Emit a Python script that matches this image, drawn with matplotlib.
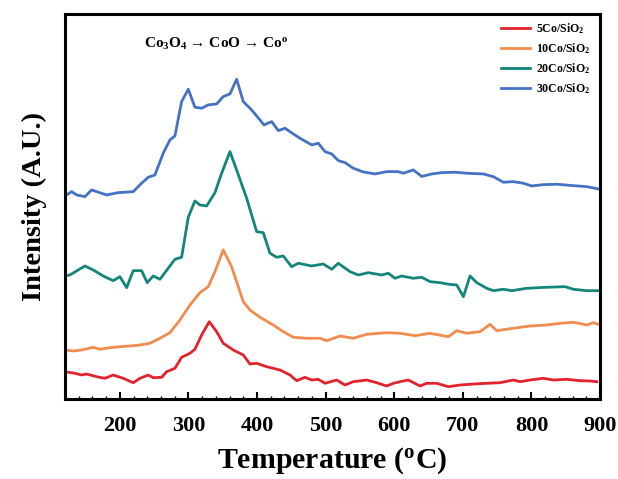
"""TPR profiles of the xCo/SiO2 catalysts, stacked with an offset."""
import matplotlib

matplotlib.use("Agg")
import matplotlib.pyplot as plt
from matplotlib.ticker import MultipleLocator

plt.rcParams["font.family"] = ["Liberation Serif", "DejaVu Serif"]
plt.rcParams["font.weight"] = "bold"
plt.rcParams["mathtext.fontset"] = "custom"
plt.rcParams["mathtext.rm"] = "Liberation Serif:bold"
plt.rcParams["mathtext.bf"] = "Liberation Serif:bold"
plt.rcParams["mathtext.it"] = "Liberation Serif:bold"

# temperature (degC) and intensity (a.u., curves already offset)
t_30 = [122.5, 129.8, 137.1, 149.2, 158.9, 180.8, 197.7, 219.6, 231.8, 241.5,
        251.2, 263.3, 273.1, 280.4, 290.1, 299.8, 309.5, 319.3, 328.9, 341.2,
        350.8, 360.6, 370.3, 380.0, 392.2, 404.3, 410.1, 421.4, 431.0, 440.8,
        452.9, 462.6, 479.7, 489.3, 499.1, 508.9, 518.5, 528.2, 540.3, 554.9,
        572.0, 589.0, 605.9, 613.2, 627.8, 640.1, 654.7, 669.2, 688.6, 705.7,
        729.9, 744.5, 759.0, 773.6, 788.2, 800.4, 817.4, 836.9, 861.1, 880.6,
        897.5]
i_30 = [204, 207.3, 204, 202.3, 209, 204, 206.3, 207.3, 215.7, 221.7,
        224, 245.7, 259, 263, 297.3, 309.7, 291.7, 290.7, 294, 295,
        302.3, 305, 319.7, 297.3, 289, 279, 274, 277.3, 268.3, 270.7,
        265, 260.7, 254, 255.7, 247.3, 245, 238.3, 236.3, 230.7, 227,
        225, 227.3, 227.3, 225.7, 229, 222.5, 225, 226.3, 226.7, 225.7,
        225, 222.3, 216.7, 217.3, 215.7, 213, 214.3, 214.7, 213.3, 212.3,
        210]

t_20 = [120, 127.3, 139.4, 149.2, 161.3, 175.8, 190.4, 200.2, 210, 219.6,
        231.8, 240.0, 248.7, 258.5, 273.1, 280.4, 290.1, 299.8, 309.5, 316.8,
        326.6, 338.7, 348.5, 360.6, 370.3, 384.9, 399.5, 409.1, 418.9, 428.7,
        438.3, 450.5, 460.2, 479.7, 496.6, 508.9, 518.5, 535.5, 547.6, 562.2,
        581.7, 591.4, 601.1, 610.9, 627.8, 640.1, 652.2, 666.8, 681.3, 691.1,
        700.7, 710.5, 720.3, 734.8, 744.5, 759.0, 771.3, 793.1, 822.3, 849.0,
        861.1, 880.6, 897.5]
i_20 = [123, 124, 129, 133, 129, 123, 118.3, 122.3, 111.3, 128.3,
        128.3, 116.3, 123, 119.7, 133, 139.7, 141.7, 181.7, 198, 194,
        193, 206.3, 225.7, 247.3, 229, 200.7, 167.3, 166.3, 145.7, 141.7,
        143, 132.3, 135.7, 133, 135, 129.7, 135.7, 127.3, 124, 126.3,
        124, 125.7, 120.7, 123, 120.7, 121.7, 117.3, 116.3, 114.5, 114,
        102.3, 123, 116.3, 110.7, 108.3, 109.7, 108.3, 110.7, 111.7, 112.3,
        109.7, 108.3, 108.3]

t_10 = [120, 132.1, 144.3, 161.3, 171.0, 185.6, 200.2, 214.8, 229.4, 243.9,
        258.5, 273.1, 287.7, 302.3, 316.8, 328.9, 338.7, 350.8, 363.0, 380.0,
        389.7, 404.3, 423.7, 438.3, 452.9, 472.4, 491.8, 501.6, 521.0, 540.3,
        559.9, 589.0, 608.4, 630.3, 652.2, 678.9, 691.1, 705.7, 725.1, 739.7,
        749.4, 773.6, 798.0, 822.3, 841.7, 861.1, 880.6, 890.3, 897.5]
i_10 = [49, 48, 49, 51.7, 49.7, 51.3, 52.3, 53, 54, 55.7,
        60.7, 66.3, 79, 94, 106.3, 112.3, 127.3, 149, 132.3, 97.3,
        89, 81.7, 74, 67.3, 61.7, 60.7, 60.7, 58.3, 63, 60.7,
        64.7, 66.3, 65.7, 63.3, 65.7, 62.3, 68.3, 65.7, 67.3, 74.7,
        68.3, 70.7, 73, 74, 75.7, 76.7, 74, 76.3, 74.7]

t_5 = [120, 134.6, 144.3, 151.6, 166.2, 178.3, 190.4, 205.0, 219.6, 229.4,
       241.5, 248.7, 261.0, 268.3, 280.4, 290.1, 302.3, 309.5, 319.3, 330.4,
       341.2, 350.8, 365.4, 380.0, 389.7, 399.5, 414.1, 433.5, 448.1, 457.8,
       469.9, 479.7, 489.3, 499.1, 516.1, 528.2, 540.3, 559.9, 574.4, 589.0,
       598.7, 608.4, 620.5, 637.6, 647.3, 661.9, 678.9, 695.9, 715.3, 734.8,
       754.2, 773.6, 783.4, 798.0, 817.4, 832.0, 851.5, 870.9, 885.5, 895.2]
i_5 = [27.3, 25.7, 24, 25, 22.3, 20.7, 24, 20.7, 16.3, 20.7,
       24, 21.3, 21.7, 27.3, 30.7, 41.7, 45.7, 49.7, 64, 77.3,
       67.3, 55.7, 49, 44, 35, 35.7, 32.3, 29, 24, 18.3,
       21.7, 19, 19.7, 15.7, 19, 14, 17.3, 19, 16.3, 13,
       15.7, 17.3, 19, 13, 15.7, 15.7, 12.3, 14, 15, 15.7,
       16.3, 19, 17.3, 19, 20.7, 19, 19.7, 18.3, 18, 17.3]

labels = ["5Co/SiO$_2$", "10Co/SiO$_2$", "20Co/SiO$_2$", "30Co/SiO$_2$"]
colors = ["#e3232c", "#f28c4e", "#13857a", "#4472c4"]

fig = plt.figure(figsize=(6.18, 4.79), dpi=100)
ax = fig.add_axes([0.105, 0.167, 0.866, 0.804])

for t, i, lab, c in zip([t_5, t_10, t_20, t_30], [i_5, i_10, i_20, i_30],
                        labels, colors):
    ax.plot(t, i, color=c, lw=2.0, label=lab)

ax.set_xlim(120, 900)
ax.set_ylim(0, 385)
ax.xaxis.set_major_locator(MultipleLocator(100))
ax.xaxis.set_minor_locator(MultipleLocator(20))
ax.set_yticks([])
ax.tick_params(axis="x", which="major", direction="in", length=5, width=1.5,
               labelsize=16, pad=12)
ax.tick_params(axis="x", which="minor", direction="in", length=2.5, width=1)
for s in ax.spines.values():
    s.set_linewidth(2.2)

ax.set_xlabel("Temperature ($^{\\mathrm{o}}$C)", fontsize=21.5, fontweight="bold",
              labelpad=7)
ax.set_ylabel("Intensity (A.U.)", fontsize=20.5, fontweight="bold", labelpad=13)

# reduction sequence label above the peaks
ax.text(340, 355, "Co$_3$O$_4$ \u2192 CoO \u2192 Co$^{\\mathrm{o}}$",
        ha="center", va="center", fontsize=11, fontweight="bold")

ax.legend(loc="upper right", frameon=False, fontsize=8.5,
          handlelength=2.5, labelspacing=0.45, handletextpad=0.5,
          borderaxespad=0.2, bbox_to_anchor=(0.995, 1.0))

fig.savefig("out.png", dpi=100)
